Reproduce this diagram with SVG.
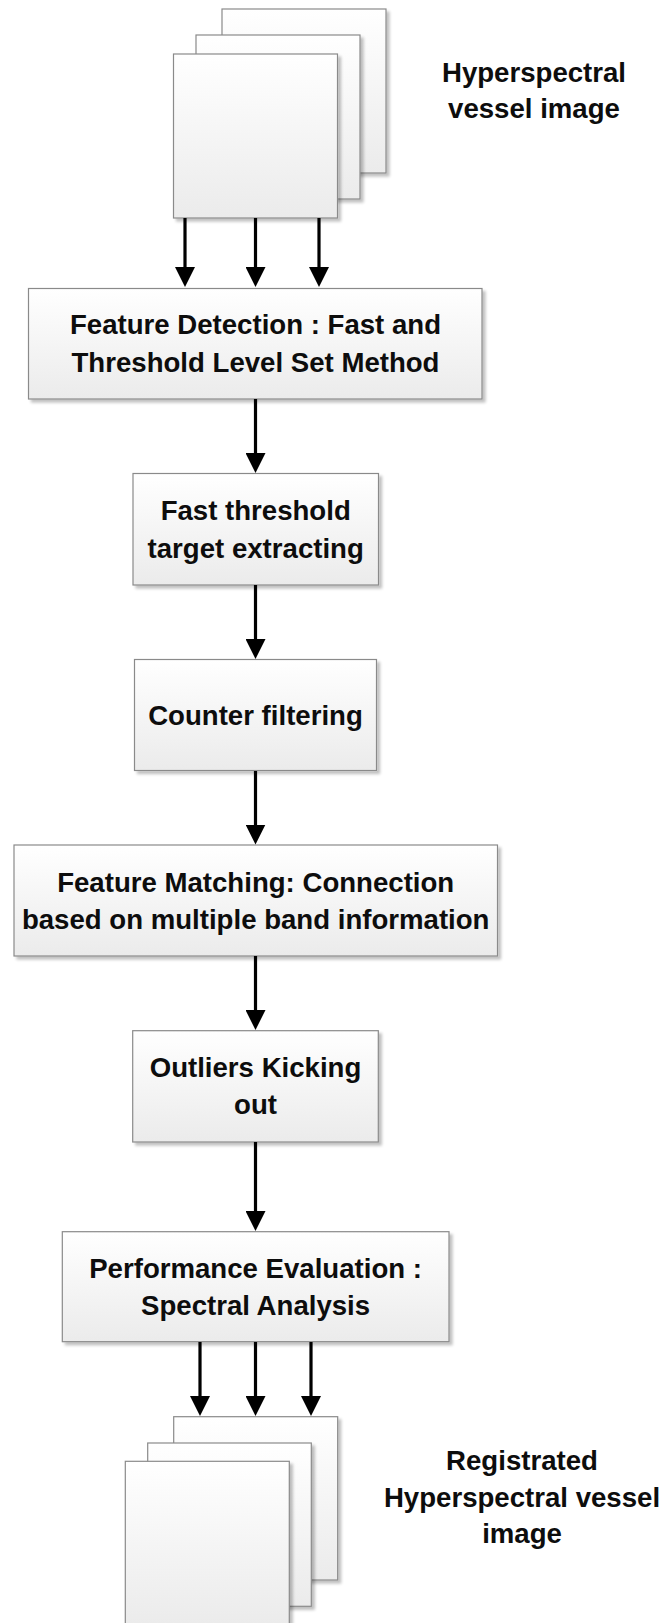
<svg xmlns="http://www.w3.org/2000/svg" width="660" height="1623" viewBox="0 0 660 1623">
<style>
.box{fill:url(#g);stroke:#8a8a8a;stroke-width:1.2;filter:url(#sh)}
.t{font-family:"Liberation Sans",Arial,sans-serif;font-weight:bold;font-size:27.6px;fill:#0d0d0d;text-anchor:middle}
.c{stroke:#000;stroke-width:3.2;fill:none;marker-end:url(#ah)}
</style>
<defs>
<linearGradient id="g" x1="0" y1="0" x2="0" y2="1">
<stop offset="0" stop-color="#ffffff"/>
<stop offset="1" stop-color="#ebebeb"/>
</linearGradient>
<filter id="sh" x="-10%" y="-10%" width="130%" height="130%">
<feGaussianBlur in="SourceAlpha" stdDeviation="1.5"/>
<feOffset dx="3" dy="3" result="b"/>
<feComponentTransfer><feFuncA type="linear" slope="0.25"/></feComponentTransfer>
<feMerge><feMergeNode/><feMergeNode in="SourceGraphic"/></feMerge>
</filter>
<marker id="ah" markerUnits="userSpaceOnUse" markerWidth="20" markerHeight="20" viewBox="0 0 20 20" refX="1" refY="10" orient="auto">
<path d="M0,0 L20,10 L0,20 z" fill="#000"/>
</marker>
</defs>

<g id="input-image">
<rect class="box" x="222" y="9" width="164" height="164"/>
<rect class="box" x="196" y="35" width="164" height="164"/>
<rect class="box" x="173.5" y="54" width="164" height="164"/>
<text class="t" x="534" y="81.7">Hyperspectral</text>
<text class="t" x="534" y="118">vessel image</text>
</g>

<g id="feature-detection">
<rect class="box" x="28.5" y="288.5" width="453.5" height="110.5"/>
<text class="t" x="255.5" y="334.3">Feature Detection : Fast and</text>
<text class="t" x="255.5" y="371.7">Threshold Level Set Method</text>
</g>

<g id="fast-threshold">
<rect class="box" x="133" y="473.5" width="245.5" height="111.5"/>
<text class="t" x="255.7" y="520">Fast threshold</text>
<text class="t" x="255.7" y="558.3">target extracting</text>
</g>

<g id="counter-filtering">
<rect class="box" x="134.5" y="659.5" width="242" height="111"/>
<text class="t" x="255.5" y="725">Counter filtering</text>
</g>

<g id="feature-matching">
<rect class="box" x="14" y="845" width="483.5" height="111"/>
<text class="t" x="255.7" y="891.5">Feature Matching: Connection</text>
<text class="t" x="255.7" y="929">based on multiple band information</text>
</g>

<g id="outliers">
<rect class="box" x="132.7" y="1030.7" width="245.6" height="111.3"/>
<text class="t" x="255.5" y="1076.7">Outliers Kicking</text>
<text class="t" x="255.5" y="1114.3">out</text>
</g>

<g id="performance">
<rect class="box" x="62.3" y="1231.7" width="386.7" height="110"/>
<text class="t" x="255.6" y="1277.7">Performance Evaluation :</text>
<text class="t" x="255.6" y="1315">Spectral Analysis</text>
</g>

<g id="output-image">
<rect class="box" x="173.7" y="1416.7" width="164" height="163.3"/>
<rect class="box" x="147.7" y="1443" width="163.6" height="163.3"/>
<rect class="box" x="125.3" y="1461.3" width="164" height="164"/>
<text class="t" x="522" y="1470">Registrated</text>
<text class="t" x="522" y="1506.7">Hyperspectral vessel</text>
<text class="t" x="522" y="1543.3">image</text>
</g>

<g id="connectors">
<line class="c" x1="185" y1="218" x2="185" y2="268"/>
<line class="c" x1="255.5" y1="218" x2="255.5" y2="268"/>
<line class="c" x1="319" y1="218" x2="319" y2="268"/>
<line class="c" x1="255.5" y1="399" x2="255.5" y2="454"/>
<line class="c" x1="255.5" y1="585" x2="255.5" y2="640"/>
<line class="c" x1="255.5" y1="771" x2="255.5" y2="825.5"/>
<line class="c" x1="255.5" y1="956" x2="255.5" y2="1011"/>
<line class="c" x1="255.5" y1="1142" x2="255.5" y2="1212"/>
<line class="c" x1="200" y1="1342" x2="200" y2="1397"/>
<line class="c" x1="255.5" y1="1342" x2="255.5" y2="1397"/>
<line class="c" x1="311" y1="1342" x2="311" y2="1397"/>
</g>
</svg>
